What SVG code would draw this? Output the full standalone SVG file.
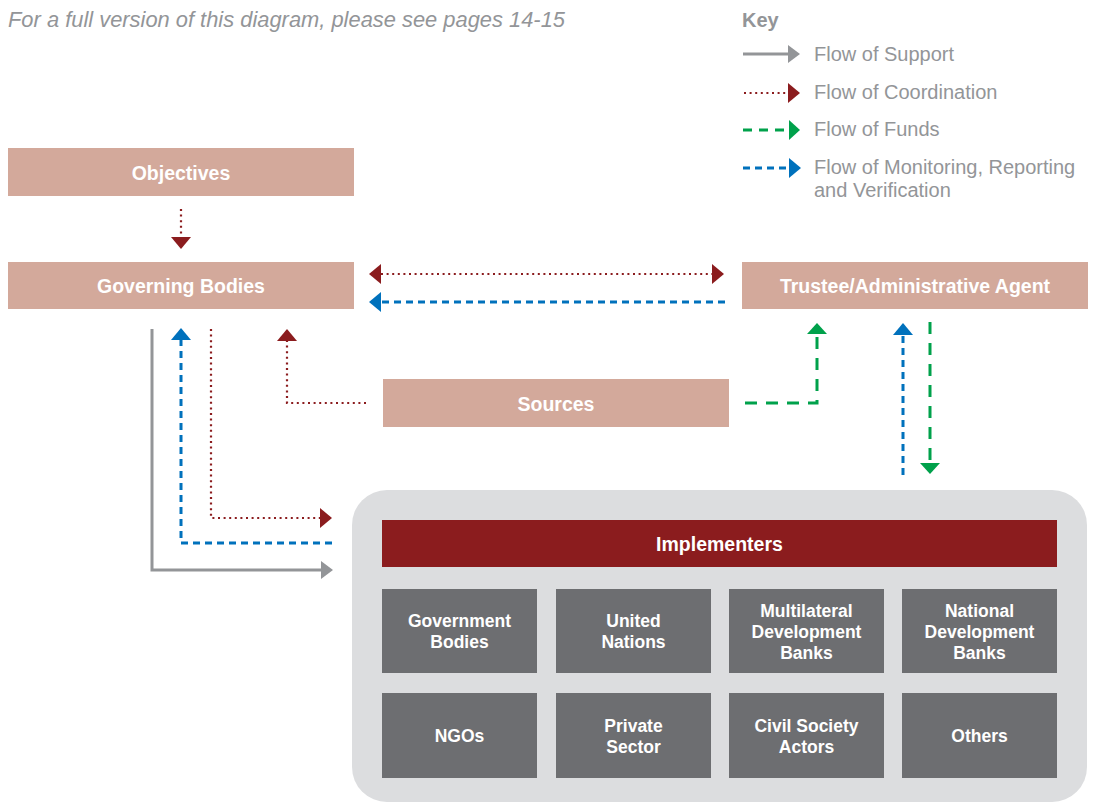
<svg xmlns="http://www.w3.org/2000/svg" width="1097" height="803" viewBox="0 0 1097 803">
<style>
.bg{fill:#ffffff}
.box{fill:#d3a99b}
.lbl{font-family:"Liberation Sans",Arial,sans-serif;font-weight:bold;fill:#ffffff;text-anchor:middle}
.big{font-size:19.5px}
.sm{font-size:17.5px}
.key{font-family:"Liberation Sans",Arial,sans-serif;font-size:20px;fill:#939598}
.cell{fill:#6d6e71}
.sup{fill:none;stroke:#939598;stroke-width:3}
.coo{fill:none;stroke:#8b1c1e;stroke-width:2.2;stroke-dasharray:2 3.6}
.fun{fill:none;stroke:#00a14b;stroke-width:3;stroke-dasharray:12 9}
.mon{fill:none;stroke:#0071bc;stroke-width:3;stroke-dasharray:7 5}
</style>
<defs>
<marker id="hG" markerUnits="userSpaceOnUse" viewBox="0 -10 12 20" refX="0" refY="0" markerWidth="12" markerHeight="20" orient="auto"><path d="M0,-9 L12,0 L0,9 z" fill="#939598"/></marker>
<marker id="hR" markerUnits="userSpaceOnUse" viewBox="0 -10 12 20" refX="0" refY="0" markerWidth="12" markerHeight="20" orient="auto-start-reverse"><path d="M0,-10 L12,0 L0,10 z" fill="#8b1c1e"/></marker>
<marker id="hF" markerUnits="userSpaceOnUse" viewBox="0 -10 12 20" refX="0" refY="0" markerWidth="12" markerHeight="20" orient="auto"><path d="M0,-10 L11,0 L0,10 z" fill="#00a14b"/></marker>
<marker id="hB" markerUnits="userSpaceOnUse" viewBox="0 -10 12 20" refX="0" refY="0" markerWidth="12" markerHeight="20" orient="auto"><path d="M0,-10 L12,0 L0,10 z" fill="#0071bc"/></marker>
</defs>
<rect class="bg" x="0" y="0" width="1097" height="803"/>
<text x="8" y="27" font-family="'Liberation Sans',Arial,sans-serif" font-style="italic" font-size="22" fill="#939598" textLength="557" lengthAdjust="spacingAndGlyphs">For a full version of this diagram, please see pages 14-15</text>

<g id="key">
<text class="key" x="742" y="27" font-weight="bold">Key</text>
<path class="sup" d="M743,54 L788,54" marker-end="url(#hG)"/>
<text class="key" x="814" y="61">Flow of Support</text>
<path class="coo" d="M744,93 L788,93" marker-end="url(#hR)"/>
<text class="key" x="814" y="99">Flow of Coordination</text>
<path class="fun" d="M743,130 L788,130" style="stroke-dasharray:9 7"/>
<path d="M788,130 L789,130" fill="none" stroke="none" marker-end="url(#hF)"/>
<text class="key" x="814" y="136">Flow of Funds</text>
<path class="mon" d="M743,168 L788,168" style="stroke-dasharray:7 5"/>
<path d="M788,168 L789,168" fill="none" stroke="none" marker-end="url(#hB)"/>
<text class="key" x="814" y="174">Flow of Monitoring, Reporting</text>
<text class="key" x="814" y="197">and Verification</text>
</g>

<g id="objectives">
<rect class="box" x="8" y="148" width="346" height="48"/>
<text class="lbl big" x="181" y="180">Objectives</text>
</g>
<g id="governing-bodies">
<rect class="box" x="8" y="262" width="346" height="47"/>
<text class="lbl big" x="181" y="293">Governing Bodies</text>
</g>
<g id="trustee">
<rect class="box" x="742" y="262" width="346" height="47"/>
<text class="lbl big" x="915" y="293" font-size="20">Trustee/Administrative Agent</text>
</g>
<g id="sources">
<rect class="box" x="383" y="379" width="346" height="48"/>
<text class="lbl big" x="556" y="411">Sources</text>
</g>

<g id="implementers">
<rect x="352" y="490" width="735" height="312" rx="35" ry="35" fill="#dcdddf"/>
<rect x="382" y="520" width="675" height="47" fill="#8b1c1e"/>
<text class="lbl big" x="719.5" y="551">Implementers</text>
<g id="government-bodies"><rect class="cell" x="382" y="589" width="155" height="84"/>
<text class="lbl sm" x="459.5" y="627">Government</text><text class="lbl sm" x="459.5" y="648">Bodies</text></g>
<g id="united-nations"><rect class="cell" x="556" y="589" width="155" height="84"/>
<text class="lbl sm" x="633.5" y="627">United</text><text class="lbl sm" x="633.5" y="648">Nations</text></g>
<g id="mdb"><rect class="cell" x="729" y="589" width="155" height="84"/>
<text class="lbl sm" x="806.5" y="617">Multilateral</text><text class="lbl sm" x="806.5" y="638">Development</text><text class="lbl sm" x="806.5" y="659">Banks</text></g>
<g id="ndb"><rect class="cell" x="902" y="589" width="155" height="84"/>
<text class="lbl sm" x="979.5" y="617">National</text><text class="lbl sm" x="979.5" y="638">Development</text><text class="lbl sm" x="979.5" y="659">Banks</text></g>
<g id="ngos"><rect class="cell" x="382" y="693" width="155" height="85"/>
<text class="lbl sm" x="459.5" y="742">NGOs</text></g>
<g id="private-sector"><rect class="cell" x="556" y="693" width="155" height="85"/>
<text class="lbl sm" x="633.5" y="732">Private</text><text class="lbl sm" x="633.5" y="753">Sector</text></g>
<g id="civil-society"><rect class="cell" x="729" y="693" width="155" height="85"/>
<text class="lbl sm" x="806.5" y="732">Civil Society</text><text class="lbl sm" x="806.5" y="753">Actors</text></g>
<g id="others"><rect class="cell" x="902" y="693" width="155" height="85"/>
<text class="lbl sm" x="979.5" y="742">Others</text></g>
</g>

<g id="connectors">
<path class="coo" d="M181,209 L181,237" marker-end="url(#hR)"/>
<path class="coo" d="M381,274 L712,274" marker-start="url(#hR)" marker-end="url(#hR)"/>
<path class="mon" d="M725,302 L381,302" marker-end="url(#hB)"/>
<path class="coo" d="M366,403 L287,403 L287,341" marker-end="url(#hR)"/>
<path class="fun" d="M745,403 L817,403 L817,334" marker-end="url(#hF)"/>
<path class="mon" d="M903,475 L903,335" marker-end="url(#hB)"/>
<path class="fun" d="M930,322 L930,463" marker-end="url(#hF)"/>
<path class="sup" d="M152,329 L152,570 L321,570" marker-end="url(#hG)"/>
<path class="mon" d="M332,543 L181,543 L181,340" marker-end="url(#hB)"/>
<path class="coo" d="M211,329 L211,518 L320,518" marker-end="url(#hR)"/>
</g>
</svg>
